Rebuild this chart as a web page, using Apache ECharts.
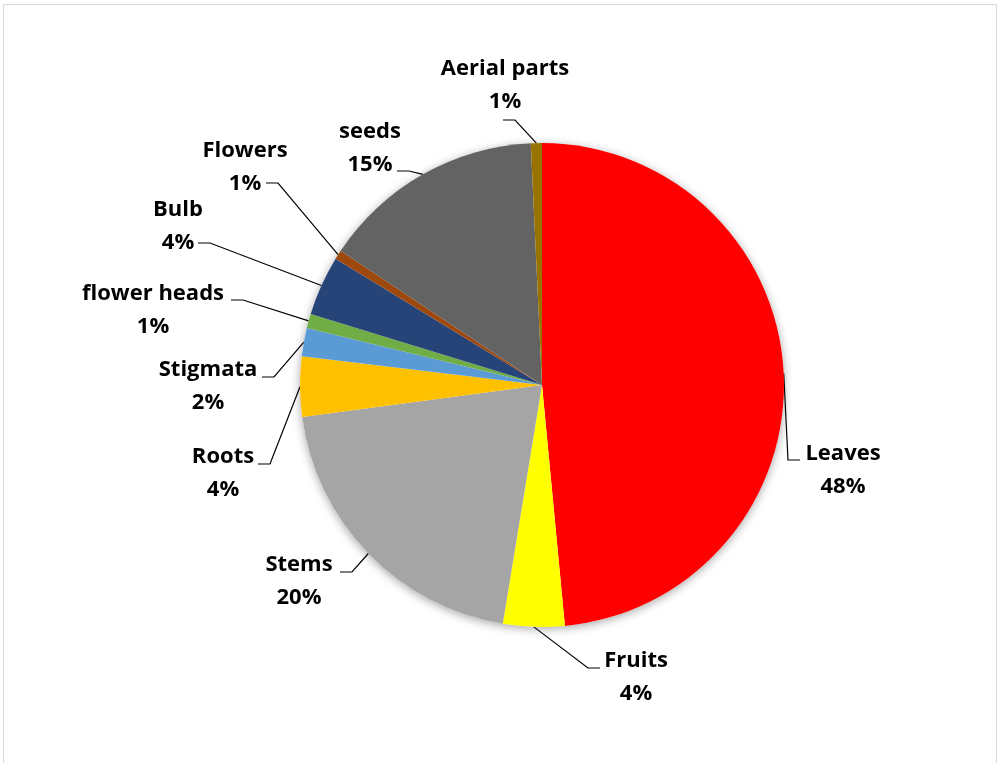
<!DOCTYPE html>
<html>
<head>
<meta charset="utf-8">
<script src="https://cdn.jsdelivr.net/npm/echarts@6/dist/echarts.min.js"></script>
<style>
  html, body { margin: 0; padding: 0; background: #fff; }
  #chart { width: 997px; height: 763px; }
</style>
</head>
<body>
<div id="chart"></div>
<script>
// plant parts, clockwise from 12 o'clock
const parts = ['Leaves', 'Fruits', 'Stems', 'Roots', 'Stigmata', 'flower heads', 'Bulb', 'Flowers', 'seeds', 'Aerial parts']
const shares = [48.49, 4.1, 20.3, 4.0, 1.9, 0.95, 4.0, 0.62, 14.9, 0.74]
const colors = ['#FF0000', '#FFFF00', '#A5A5A5', '#FFC000', '#5B9BD5', '#70AD47', '#264478', '#9E480E', '#636363', '#997300']

// label block centre (cx, cy) and where the leader line ends (ex, ey)
const labelSpots = [
  [843, 470, 800, 460],
  [636, 677, 600, 668],
  [299, 581, 340, 572],
  [223, 473, 258, 464],
  [208, 386, 262, 377],
  [153, 310, 231, 300],
  [178, 226, 198, 243],
  [245, 167, 266, 183],
  [370, 148, 397, 171],
  [505, 85, 503, 120]
]

const center = [542, 385]
const radius = 242

const chart = echarts.init(document.getElementById('chart'))

const option = {
  animation: false,
  backgroundColor: '#fff',
  graphic: [{
    type: 'rect',
    shape: { x: 3.5, y: 4.5, width: 993, height: 770 },
    style: { fill: 'none', stroke: '#D9D9D9', lineWidth: 1 },
    silent: true
  }],
  series: [
    {
      // soft shadow under the whole pie
      type: 'pie',
      silent: true,
      z: 1,
      center: center,
      radius: radius,
      label: { show: false },
      labelLine: { show: false },
      itemStyle: {
        color: '#fff',
        shadowBlur: 10,
        shadowOffsetX: 0,
        shadowOffsetY: 2,
        shadowColor: 'rgba(0,0,0,0.35)'
      },
      data: [1]
    },
    {
      type: 'pie',
      z: 2,
      center: center,
      radius: radius,
      startAngle: 90,
      clockwise: true,
      avoidLabelOverlap: false,
      itemStyle: { borderWidth: 0 },
      label: {
        show: true,
        position: 'outside',
        color: '#000',
        fontFamily: '"Open Sans", Lato, sans-serif',
        fontWeight: 'bold',
        fontSize: 22,
        lineHeight: 33,
        align: 'center',
        formatter: p => p.name + '\n' + Math.round(p.value) + '%'
      },
      labelLine: {
        show: true,
        length: 10,
        length2: 10,
        lineStyle: { color: '#000', width: 1.2 }
      },
      labelLayout: function (params) {
        const s = labelSpots[params.dataIndex]
        if (!s) return {}
        const p0 = params.labelLinePoints ? params.labelLinePoints[0] : [s[2], s[3]]
        const dir = p0[0] > s[2] ? 1 : -1
        return {
          x: s[0],
          y: s[1],
          align: 'center',
          verticalAlign: 'middle',
          labelLinePoints: [p0, [s[2] + dir * 12, s[3]], [s[2], s[3]]]
        }
      },
      data: parts.map((name, i) => ({
        name: name,
        value: shares[i],
        itemStyle: { color: colors[i] }
      }))
    }
  ]
}

chart.setOption(option)
</script>
</body>
</html>
